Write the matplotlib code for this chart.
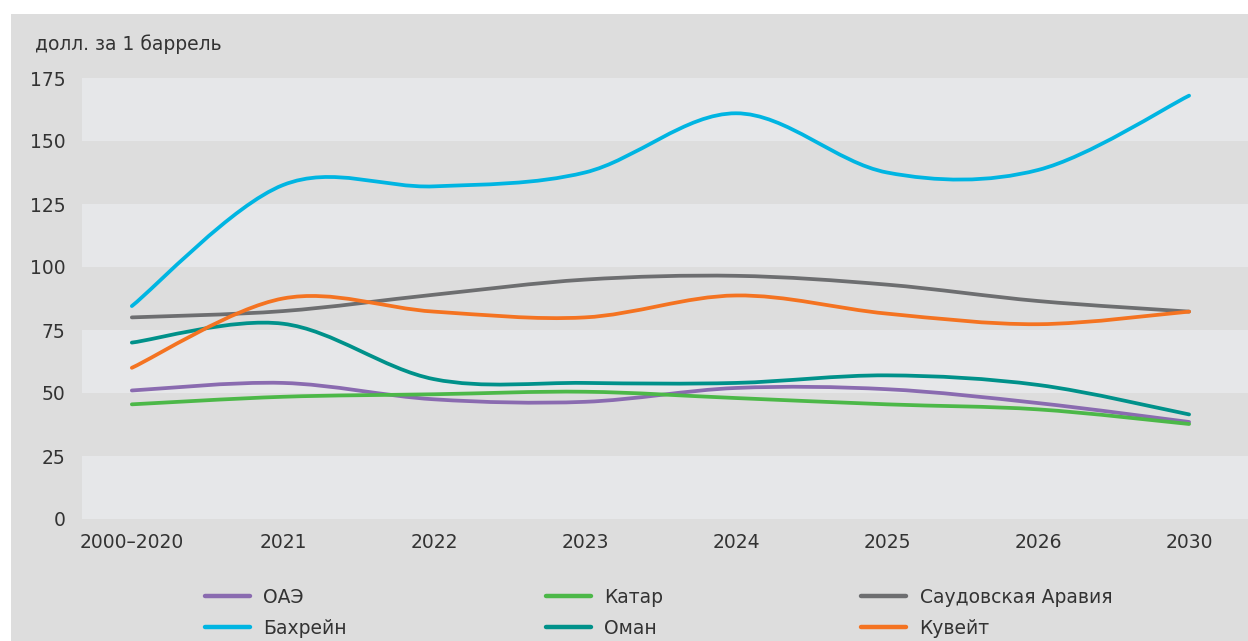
import numpy as np
import matplotlib
matplotlib.use("Agg")
import matplotlib.pyplot as plt
from matplotlib.path import Path
from matplotlib.patches import PathPatch, Rectangle
from matplotlib.lines import Line2D

# categories on the x axis
categories = ["2000–2020", "2021", "2022", "2023", "2024", "2025", "2026", "2030"]

# break-even oil price, USD per barrel
uae = [51, 54, 47.5, 46.5, 52, 51.5, 46, 38.5]
qatar = [45.5, 48.5, 49.5, 50.5, 48, 45.5, 43.5, 37.7]
saudi = [80, 82.5, 89, 95, 96.5, 93, 86.5, 82.3]
bahrain = [84.5, 132.5, 132, 137.5, 161, 137.5, 138.5, 168]
oman = [70, 77.5, 55.5, 54, 54, 57, 53.2, 41.5]
kuwait = [60, 87.5, 82.3, 80, 88.7, 81.5, 77.3, 82.3]

series_names = ["ОАЭ", "Бахрейн", "Катар", "Оман", "Саудовская Аравия", "Кувейт"]
series_values = [uae, bahrain, qatar, oman, saudi, kuwait]
series_colors = ["#8a6bb0", "#00b5e2", "#4cb848", "#00918a", "#6d6e70", "#f47321"]

y_ticks = [0, 25, 50, 75, 100, 125, 150, 175]

PANEL = "#dddddd"
BAND = "#e6e7e9"
TEXT = "#333333"


def smooth_path(xs, ys, t=1.0 / 6):
    """Bezier path through the points, like a spreadsheet 'smoothed line'."""
    pts = np.column_stack([xs, ys]).astype(float)
    n = len(pts)
    verts = [pts[0]]
    codes = [Path.MOVETO]
    for i in range(n - 1):
        p0 = pts[max(i - 1, 0)]
        p1 = pts[i]
        p2 = pts[i + 1]
        p3 = pts[min(i + 2, n - 1)]
        c1 = p1 + (p2 - p0) * t
        c2 = p2 - (p3 - p1) * t
        verts += [c1, c2, p2]
        codes += [Path.CURVE4] * 3
    return Path(verts, codes)


fig = plt.figure(figsize=(12.48, 6.41), dpi=100)
fig.patch.set_facecolor("white")

# grey panel behind the chart
fig.patches.append(Rectangle((11 / 1248, 0), 1, 1 - 14 / 641, transform=fig.transFigure,
                             facecolor=PANEL, edgecolor="none", zorder=-10))

ax = fig.add_axes([82 / 1248, (641 - 519) / 641, (1248 - 82) / 1248, (519 - 78) / 641])
ax.set_facecolor("none")
ax.set_xlim(-0.33, 7.39)
ax.set_ylim(0, 175)

# alternating horizontal bands
for lo in y_ticks[::2]:
    ax.axhspan(lo, lo + 25, color=BAND, lw=0, zorder=0)

x = np.arange(len(categories))
for name, vals, col in zip(series_names, series_values, series_colors):
    patch = PathPatch(smooth_path(x, vals), facecolor="none", edgecolor=col,
                      lw=2.7, capstyle="round", joinstyle="round", zorder=3)
    ax.add_patch(patch)

ax.set_xticks(x)
ax.set_xticklabels(categories)
ax.set_yticks(y_ticks)
ax.tick_params(length=0, labelsize=13.5, labelcolor=TEXT)
ax.tick_params(axis="x", pad=10)
ax.tick_params(axis="y", pad=12)
for s in ax.spines.values():
    s.set_visible(False)

fig.text(35 / 1248, 1 - 44 / 641, "долл. за 1 баррель", fontsize=13.5, color=TEXT,
         ha="left", va="center")

handles = [Line2D([], [], color=c, lw=3.2, solid_capstyle="round") for c in series_colors]
fig.legend(handles, series_names, ncol=3, loc="upper left",
           bbox_to_anchor=(205 / 1248, 1 - 588 / 641), frameon=False,
           fontsize=13.5, labelcolor=TEXT, handlelength=2.4, handletextpad=0.7,
           columnspacing=10.6, labelspacing=0.62, borderaxespad=0, borderpad=0)

fig.savefig("out.png", dpi=100, facecolor="white")
